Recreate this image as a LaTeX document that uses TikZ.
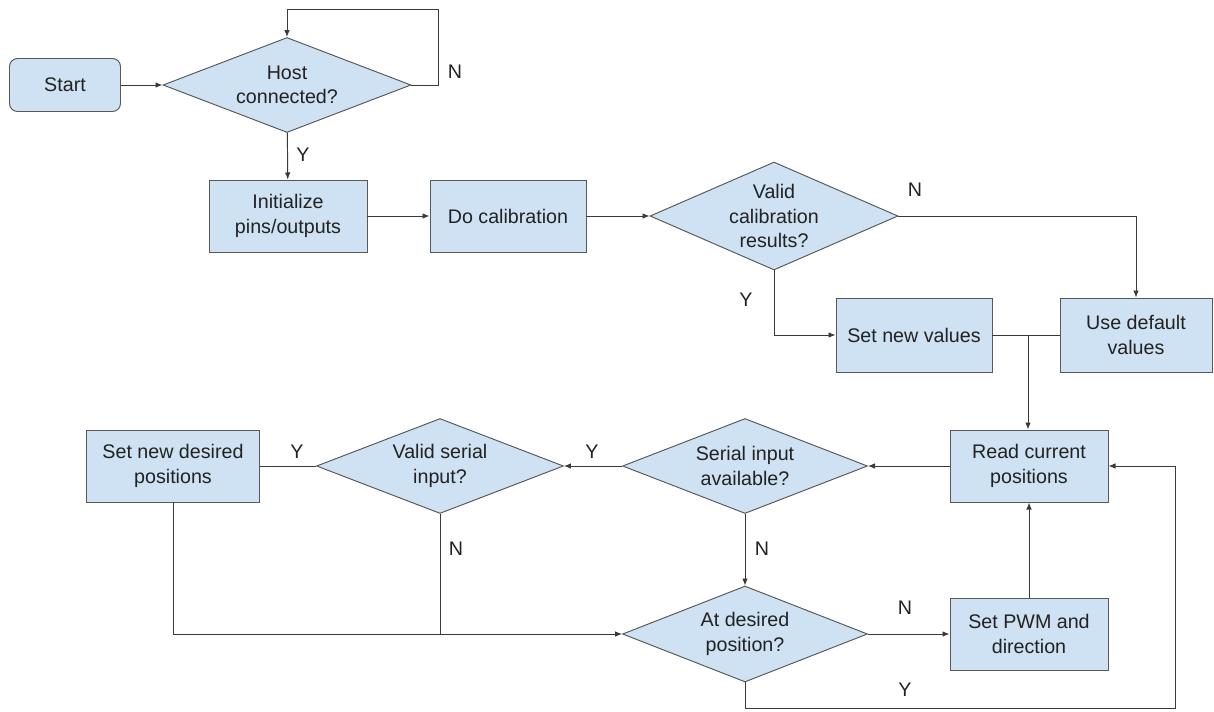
\documentclass[tikz,border=0pt]{standalone}
\usepackage{fontspec}
\setmainfont{Liberation Sans}
\usepackage{xcolor}
\usetikzlibrary{arrows.meta, shapes.geometric, positioning}

\definecolor{boxblue}{HTML}{CFE2F3}
\definecolor{boxgray}{HTML}{595959}
\definecolor{wiregray}{HTML}{3A3A3A}
\definecolor{inkgray}{HTML}{222222}
\newcommand{\flowfont}{\fontsize{11.2}{14}\selectfont}

\tikzset{
  block/.style={rectangle, draw=boxgray, fill=boxblue, line width=0.55pt,
    minimum width=3.16cm, minimum height=1.44cm, align=center, font=\flowfont, text=inkgray},
  startbox/.style={block, rounded corners=0.16cm, minimum width=2.22cm, minimum height=1.06cm},
  decision/.style={diamond, draw=boxgray, fill=boxblue, line width=0.55pt,
    inner sep=0pt, minimum width=4.96cm, minimum height=1.9cm},
  dtext/.style={align=center, font=\flowfont, text=inkgray},
  wire/.style={draw=wiregray, line width=0.55pt},
  arr/.style={wire, -{Latex[length=4pt,width=3.2pt]}},
  yn/.style={font=\flowfont, text=inkgray}
}

\begin{document}
\begin{tikzpicture}[x=0.02cm, y=-0.02cm]
    \useasboundingbox (0,0) rectangle (1214,711);
    % shapes
    \node[startbox] (start) at (65,85) {Start};
    \node[decision, label={[dtext]center:Host\\connected?}] (host) at (287,85) {};
    \node[block] (init) at (288,216) {Initialize\\pins/outputs};
    \node[block, minimum width=3.12cm] (calib) at (508,216) {Do calibration};
    \node[decision, minimum height=2.16cm, label={[dtext]center:Valid\\calibration\\results?}] (valid) at (774,216) {};
    \node[block, minimum width=3.12cm, minimum height=1.48cm] (setnew) at (914,335) {Set new values};
    \node[block, minimum width=3.04cm, minimum height=1.48cm] (default) at (1136,335) {Use default\\values};
    \node[block] (read) at (1029,466) {Read current\\positions};
    \node[decision, minimum width=4.9cm, label={[dtext]center:Serial input\\available?}] (serial) at (745,466) {};
    \node[decision, minimum width=4.94cm, label={[dtext]center:Valid serial\\input?}] (vserial) at (440,466) {};
    \node[block, minimum width=3.46cm] (desired) at (173,466) {Set new desired\\positions};
    \node[decision, minimum width=4.9cm, minimum height=1.92cm, label={[dtext]center:At desired\\position?}] (atpos) at (745,634) {};
    \node[block] (pwm) at (1029,634) {Set PWM and\\direction};

    % helper points
    \coordinate (loop) at (438,9);
    \coordinate (join) at (1028,335);
    \coordinate (back) at (1175,708);

    % connectors
    \draw[arr] (start) -- (host);
    \draw[arr] (host.east) -| (loop) -| (host.north);
    \draw[arr] (host) -- (init);
    \draw[arr] (init) -- (calib);
    \draw[arr] (calib) -- (valid);
    \draw[arr] (valid.east) -| (default.north);
    \draw[arr] (valid.south) |- (setnew.west);
    \draw[wire] (setnew) -- (default);
    \draw[arr] (join) -- (join |- read.north);
    \draw[arr] (read) -- (serial);
    \draw[arr] (serial) -- (vserial);
    \draw[wire] (vserial) -- (desired);
    \draw[arr] (desired.south) |- (atpos.west);
    \draw[wire] (vserial.south) -- (vserial.south |- atpos.west);
    \draw[arr] (serial) -- (atpos);
    \draw[arr] (atpos) -- (pwm);
    \draw[arr] (pwm) -- (read);
    \draw[arr] (atpos.south) |- (back) |- (read.east);

    % Y / N labels
    \node[yn] (hostN) at (455,72) {N};
    \node[yn] (hostY) at (303,155) {Y};
    \node[yn] (validN) at (915,190) {N};
    \node[yn] (validY) at (746,300) {Y};
    \node[yn] (serialY) at (592,452) {Y};
    \node[yn] (vserialY) at (297,452) {Y};
    \node[yn] (vserialN) at (456,549) {N};
    \node[yn] (serialN) at (762,549) {N};
    \node[yn] (atposN) at (905,608) {N};
    \node[yn] (atposY) at (905,690) {Y};
\end{tikzpicture}
\end{document}
